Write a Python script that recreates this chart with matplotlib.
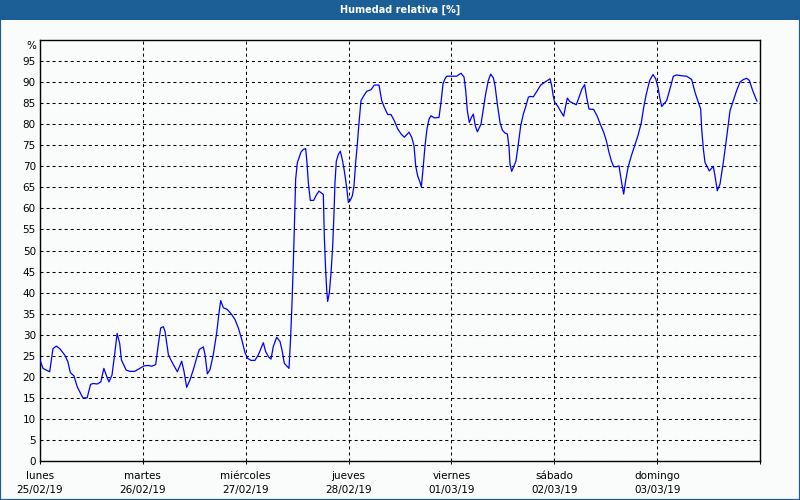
import matplotlib
matplotlib.use("Agg")
import matplotlib.pyplot as plt
from matplotlib.patches import Rectangle

# ---- data (hours since 25/02/19 00:00, relative humidity %) ----
hours = [0.0, 0.7, 2.26, 2.64, 3.03, 3.8, 4.6, 5.75, 6.5, 7.08, 7.93, 8.7, 9.5, 10.0, 11.0,
         11.8, 12.4, 13.4, 14.2, 14.9, 15.6, 16.1, 16.8, 17.4, 18.0, 18.6, 19.0, 20.1, 20.9,
         22.1, 23.3, 24.3, 25.3, 26.06, 26.99, 27.61, 28.16, 28.78, 29.17, 29.95, 30.49,
         31.11, 32.05, 33.06, 33.6, 34.22, 35.0, 35.78, 36.56, 37.18, 38.11, 38.5, 39.05,
         39.67, 40.44, 41.22, 41.77, 42.16, 42.78, 43.71, 44.72, 45.5, 46.28, 47.06, 47.84,
         48.45, 49.23, 50.16, 50.94, 52.11, 52.65, 53.27, 53.9, 54.44, 55.22, 56.0, 56.54,
         57.01, 57.55, 58.1, 58.49, 58.8, 59.11, 59.34, 59.65, 60.04, 60.43, 60.9, 61.44,
         61.99, 62.3, 62.61, 63.07, 63.85, 64.55, 65.1, 66.11, 66.34, 66.65, 66.89, 67.12,
         67.51, 67.9, 68.29, 68.6, 68.83, 69.14, 69.61, 70.07, 70.54, 71.01, 71.56, 71.95,
         72.34, 72.88, 73.27, 73.66, 74.05, 74.44, 74.9, 75.45, 76.23, 77.24, 78.01, 79.1,
         79.73, 80.35, 81.13, 81.9, 82.68, 83.46, 84.24, 85.01, 86.1, 86.73, 87.27, 87.66,
         88.13, 88.67, 88.98, 89.37, 89.84, 90.3, 90.77, 91.24, 92.01, 93.1, 93.57, 94.04,
         94.5, 94.89, 97.23, 97.77, 98.24, 98.94, 99.33, 99.71, 100.18, 100.65, 101.11,
         101.58, 102.05, 102.9, 103.45, 103.99, 104.61, 105.16, 105.78, 106.17, 106.71,
         107.34, 107.88, 108.5, 109.05, 109.44, 109.67, 110.06, 110.6, 111.07, 111.61,
         112.16, 112.78, 113.4, 113.95, 114.34, 115.11, 116.05, 116.83, 117.84, 119.0,
         119.39, 119.7, 120.09, 120.87, 121.64, 122.19, 122.66, 123.04, 123.59, 124.37,
         125.14, 125.77, 126.47, 127.09, 127.48, 128.1, 129.19, 129.97, 130.74, 131.52,
         132.14, 132.77, 133.31, 133.86, 134.48, 135.1, 135.64, 136.19, 136.66, 137.2,
         137.98, 138.76, 139.53, 140.31, 140.86, 141.48, 142.26, 143.03, 143.66, 144.2,
         144.59, 145.06, 146.22, 147.0, 147.78, 148.55, 149.72, 150.89, 152.06, 152.83,
         153.61, 154.16, 154.39, 154.78, 155.17, 156.18, 157.11, 157.5, 158.04, 158.67,
         159.44, 160.22, 161.0, 161.78, 162.55, 163.33, 164.11, 164.89, 165.51, 166.29,
         167.07, 167.3]
humidity = [24.0, 22.0, 21.2, 24.0, 26.7, 27.3, 26.7, 25.2, 23.6, 21.0, 20.2, 17.6, 16.0, 15.0, 15.0,
            18.2, 18.4, 18.3, 18.8, 22.0, 20.0, 18.8, 20.4, 25.2, 30.3, 27.9, 24.0, 21.6, 21.3,
            21.3, 22.0, 22.6, 22.7, 22.5, 22.9, 27.7, 31.6, 31.9, 30.8, 25.3, 24.1,
            22.9, 21.2, 23.7, 21.3, 17.5, 19.3, 21.7, 24.5, 26.5, 27.1, 25.3, 20.7,
            21.7, 25.3, 30.4, 35.2, 38.1, 36.4, 36.0, 34.8, 33.6, 31.6, 28.9, 25.7,
            24.4, 23.9, 23.9, 25.2, 28.1, 26.0, 24.8, 24.2, 27.2, 29.4, 28.4, 26.0,
            23.2, 22.6, 22.0, 29.6, 37.5, 47.0, 55.0, 66.9, 70.8, 72.0, 73.4, 74.0,
            74.2, 70.8, 66.1, 61.9, 61.9, 63.3, 64.1, 63.3, 53.4, 45.4, 40.7, 37.9,
            39.9, 44.6, 51.0, 58.9, 66.1, 71.2, 72.8, 73.6, 71.6, 68.9, 65.0, 61.4,
            61.8, 63.0, 65.4, 70.9, 75.3, 80.4, 85.6, 86.6, 87.8, 88.2, 89.3, 89.3,
            85.6, 84.0, 82.3, 82.3, 80.8, 78.9, 77.7, 76.9, 78.1, 76.9, 74.9, 70.1,
            67.7, 66.2, 65.1, 69.3, 74.9, 78.9, 81.2, 82.0, 81.5, 81.6, 85.2, 89.6,
            90.8, 91.4, 91.4, 91.8, 92.1, 91.2, 88.0, 83.2, 80.4, 81.6, 82.4,
            79.6, 78.2, 80.0, 83.6, 87.2, 90.4, 91.9, 91.0, 89.2, 84.8,
            80.4, 78.6, 77.9, 77.7, 74.5, 70.5, 68.8, 70.1, 71.3, 75.3,
            79.6, 82.4, 84.4, 86.4, 86.6, 86.5, 88.0, 89.3, 90.0, 90.8,
            89.2, 87.0, 85.2, 84.2, 82.8, 81.9, 84.4, 86.2, 85.4, 85.0,
            84.6, 86.4, 88.4, 89.4, 86.8, 83.6, 83.5, 82.0, 80.0, 78.1,
            76.1, 73.3, 71.3, 69.9, 69.9, 70.1, 66.6, 63.4, 66.6, 69.7,
            72.5, 74.9, 77.3, 80.4, 84.0, 87.2, 90.4, 91.8, 90.8, 88.8,
            86.4, 84.2, 85.6, 88.4, 91.4, 91.7, 91.5, 91.4, 90.6, 87.6,
            85.2, 83.6, 78.9, 74.1, 70.9, 68.9, 70.0, 67.7, 64.2, 65.8,
            70.9, 76.9, 83.2, 85.6, 88.0, 90.0, 90.6, 90.9, 90.4, 88.0,
            86.0, 85.5]

day_names = ["lunes", "martes", "miércoles", "jueves", "viernes", "sábado", "domingo", ""]
day_dates = ["25/02/19", "26/02/19", "27/02/19", "28/02/19", "01/03/19", "02/03/19", "03/03/19", ""]
day_ticks = [0, 24, 48, 72, 96, 120, 144, 168]
y_ticks = list(range(0, 100, 5))
title = "Humedad relativa [%]"

BG = "#f9fcfa"
BAR = "#1c5f96"

plt.rcParams["font.family"] = ["DejaVu Sans"]

fig = plt.figure(figsize=(8, 5), dpi=100, facecolor=BG)
W, H = 800, 500

# title bar
fig.patches.append(Rectangle((0, 1 - 20 / H), 1, 20 / H, transform=fig.transFigure,
                             facecolor=BAR, edgecolor="none", zorder=0))
fig.text(0.5, 1 - 10 / H, title, color="white", fontsize=7, fontweight="bold",
         ha="center", va="center")
# outer frame
fig.patches.append(Rectangle((0, 0), 1, 1, transform=fig.transFigure,
                             facecolor="none", edgecolor=BAR, linewidth=1.6, zorder=5))

ax = fig.add_axes([40 / W, 39 / H, 720 / W, 421 / H])
ax.set_facecolor(BG)
ax.plot(hours, humidity, color="#0000ff", linewidth=0.9, zorder=3)

ax.set_xlim(0, 168)
ax.set_ylim(0, 100)
ax.set_yticks(y_ticks)
ax.set_yticklabels([str(v) for v in y_ticks])
ax.set_xticks(day_ticks)
ax.set_xticklabels([f"{n}\n{d}" if n else "" for n, d in zip(day_names, day_dates)],
                   linespacing=1.45)

ax.grid(True, color="black", linestyle=(0, (2.9, 2.9)), linewidth=0.75, zorder=1)
for s in ax.spines.values():
    s.set_linewidth(1.0)
    s.set_color("black")
ax.tick_params(axis="y", length=0, pad=3, labelsize=7.5, colors="black")
ax.tick_params(axis="x", length=2.5, width=0.75, pad=5, labelsize=7.5, colors="black")

fig.text(36 / W, 1 - 46 / H, "%", ha="right", va="center", fontsize=7.5)

fig.savefig("out.png", dpi=100, facecolor=BG)
